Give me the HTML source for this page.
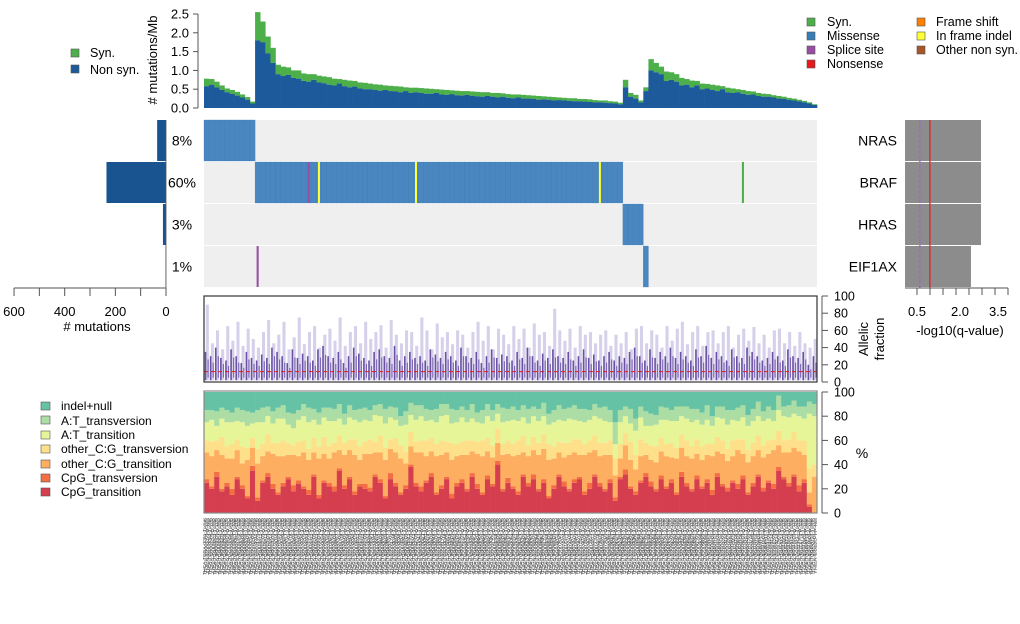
<!DOCTYPE html>
<html><head><meta charset="utf-8"><style>
html,body{margin:0;padding:0;background:#fff;}
svg{display:block;font-family:"Liberation Sans",sans-serif;}
</style></head><body>
<svg id="c" width="1020" height="624" viewBox="0 0 1020 624">
<rect width="1020" height="624" fill="#fff"/>
<g>
<rect x="71" y="49" width="8" height="8" fill="#4daf4a" stroke="#555" stroke-width="0.6"/>
<text x="90" y="57" font-size="12.5">Syn.</text>
<rect x="71" y="65" width="8" height="8" fill="#1c5a9b" stroke="#555" stroke-width="0.6"/>
<text x="90" y="74" font-size="12.5">Non syn.</text>
</g>
<g font-size="12.5">
<rect x="807" y="18" width="8" height="8" fill="#4daf4a" stroke="#555" stroke-width="0.6"/>
<text x="827" y="26">Syn.</text>
<rect x="807" y="32" width="8" height="8" fill="#377eb8" stroke="#555" stroke-width="0.6"/>
<text x="827" y="40">Missense</text>
<rect x="807" y="46" width="8" height="8" fill="#984ea3" stroke="#555" stroke-width="0.6"/>
<text x="827" y="54">Splice site</text>
<rect x="807" y="60" width="8" height="8" fill="#e41a1c" stroke="#555" stroke-width="0.6"/>
<text x="827" y="68">Nonsense</text>
<rect x="917" y="18" width="8" height="8" fill="#ff7f00" stroke="#555" stroke-width="0.6"/>
<text x="936" y="26">Frame shift</text>
<rect x="917" y="32" width="8" height="8" fill="#ffff33" stroke="#555" stroke-width="0.6"/>
<text x="936" y="40">In frame indel</text>
<rect x="917" y="46" width="8" height="8" fill="#a65628" stroke="#555" stroke-width="0.6"/>
<text x="936" y="54">Other non syn.</text>
</g>
<g font-size="12">
<rect x="41" y="402" width="9" height="8" fill="#66c2a5" stroke="#555" stroke-width="0.6"/>
<text x="61" y="410">indel+null</text>
<rect x="41" y="416" width="9" height="8" fill="#abdda4" stroke="#555" stroke-width="0.6"/>
<text x="61" y="425">A:T_transversion</text>
<rect x="41" y="431" width="9" height="8" fill="#e6f598" stroke="#555" stroke-width="0.6"/>
<text x="61" y="439">A:T_transition</text>
<rect x="41" y="445" width="9" height="8" fill="#fee08b" stroke="#555" stroke-width="0.6"/>
<text x="61" y="453">other_C:G_transversion</text>
<rect x="41" y="460" width="9" height="8" fill="#fdae61" stroke="#555" stroke-width="0.6"/>
<text x="61" y="468">other_C:G_transition</text>
<rect x="41" y="474" width="9" height="8" fill="#f46d43" stroke="#555" stroke-width="0.6"/>
<text x="61" y="482">CpG_transversion</text>
<rect x="41" y="488" width="9" height="8" fill="#d53e4f" stroke="#555" stroke-width="0.6"/>
<text x="61" y="496">CpG_transition</text>
</g>
<text transform="translate(157,60) rotate(-90)" text-anchor="middle" font-size="13"># mutations/Mb</text>
<text x="97" y="331" text-anchor="middle" font-size="13"># mutations</text>
<text x="960" y="335" text-anchor="middle" font-size="13">-log10(q-value)</text>
<text transform="translate(868,339) rotate(-90)" text-anchor="middle" font-size="13">Allelic</text>
<text transform="translate(884,339) rotate(-90)" text-anchor="middle" font-size="13">fraction</text>
<text x="862" y="458" text-anchor="middle" font-size="14">%</text>
</svg>
<script>
// ---- data ----
var genes = ["NRAS","BRAF","HRAS","EIF1AX"];
var genePct = ["8%","60%","3%","1%"];
var geneCounts = [35,235,12,2];
var geneQ = [2.73,2.73,2.73,2.38];
var groupSizes = [10,72,4,1,33];
var extraSample = [20,22,41,77,105,10];
var extraGene = [1,1,1,1,1,3];
var extraType = ["splice","inframe","inframe","inframe","syn","splice"];
var nonsyn = [0.58,0.62,0.55,0.48,0.42,0.38,0.33,0.28,0.22,0.12,
1.8,1.75,1.45,1.2,0.9,0.85,0.88,0.8,0.78,0.72,0.7,0.75,0.68,0.66,0.62,0.6,0.65,0.58,0.55,0.57,0.52,0.5,0.5,0.48,0.46,0.48,0.45,0.44,0.42,0.45,0.4,0.42,0.4,0.38,0.38,0.4,0.36,0.35,0.37,0.34,0.33,0.35,0.32,0.31,0.3,0.32,0.3,0.28,0.3,0.27,0.26,0.28,0.25,0.25,0.24,0.22,0.23,0.22,0.2,0.21,0.2,0.19,0.18,0.18,0.17,0.16,0.15,0.15,0.14,0.13,0.12,0.1,
0.55,0.3,0.25,0.15,0.45,
1.0,0.95,0.9,0.72,0.75,0.7,0.6,0.62,0.55,0.6,0.5,0.52,0.48,0.45,0.5,0.42,0.4,0.42,0.38,0.35,0.36,0.32,0.3,0.3,0.28,0.25,0.24,0.22,0.2,0.18,0.15,0.12,0.08];
var syn = [0.2,0.15,0.15,0.12,0.1,0.1,0.1,0.08,0.07,0.05,
0.75,0.55,0.45,0.4,0.25,0.25,0.2,0.2,0.22,0.2,0.2,0.15,0.18,0.18,0.2,0.18,0.12,0.17,0.18,0.15,0.16,0.17,0.15,0.15,0.16,0.12,0.14,0.14,0.15,0.1,0.14,0.12,0.13,0.14,0.13,0.1,0.13,0.13,0.1,0.12,0.12,0.1,0.12,0.12,0.12,0.1,0.1,0.12,0.09,0.1,0.1,0.08,0.1,0.09,0.09,0.1,0.08,0.08,0.09,0.07,0.07,0.07,0.08,0.06,0.07,0.07,0.06,0.05,0.06,0.05,0.05,0.04,
0.2,0.1,0.1,0.05,0.1,
0.3,0.25,0.2,0.25,0.2,0.2,0.2,0.15,0.18,0.12,0.15,0.12,0.14,0.15,0.08,0.12,0.12,0.08,0.1,0.1,0.08,0.08,0.08,0.07,0.06,0.07,0.06,0.05,0.05,0.04,0.04,0.03,0.02];
var afMid = [35,30,40,28,25,38,30,22,35,28,25,32,28,40,35,30,22,38,28,33,30,25,38,42,30,28,35,22,30,40,33,28,25,35,38,30,28,42,25,30,35,28,30,25,38,32,28,35,30,25,40,30,28,35,22,30,38,28,32,30,25,35,28,40,30,25,33,28,38,30,28,35,25,30,38,28,32,25,30,35,25,30,28,35,40,30,25,38,28,35,30,40,28,35,30,25,38,30,42,28,35,30,25,38,30,28,40,35,30,25,28,35,30,25,38,30,28,35,20,30];
var afHigh = [90,45,60,38,65,48,70,42,62,50,40,58,72,45,55,70,38,52,75,44,58,65,40,55,62,48,75,42,58,65,45,70,50,58,66,40,72,55,45,60,58,42,75,60,38,68,52,58,44,60,55,40,58,70,48,65,38,62,55,44,65,50,62,40,68,55,58,42,85,60,48,62,40,65,55,58,45,55,60,42,55,45,58,38,62,65,45,60,55,40,65,48,62,70,44,58,65,42,58,60,45,58,65,40,55,62,48,64,45,55,40,60,62,45,58,42,58,45,40,50];
var afCut = 12;
var ctS = [25,20,30,18,22,15,28,20,12,35,10,25,30,20,15,22,28,18,24,20,15,30,12,25,22,18,35,20,28,15,22,20,18,30,25,12,28,22,15,20,38,22,18,25,30,15,20,28,12,22,25,18,30,20,15,28,22,40,18,25,20,15,30,22,28,18,25,12,20,30,22,18,25,28,15,20,30,22,18,25,10,28,32,20,15,25,30,22,18,28,20,25,15,30,22,18,28,20,25,15,30,22,18,25,20,28,15,22,30,18,25,20,35,28,22,30,18,25,5,0];
var ctV = [3,2,4,2,3,5,2,3,2,4,3,2,3,4,2,3,2,5,3,2,4,2,3,2,3,4,2,3,2,3,2,4,3,2,3,2,5,3,2,3,2,3,4,2,3,2,3,2,4,3,3,2,3,4,2,3,2,3,2,4,2,3,2,3,4,2,3,2,3,2,4,2,3,2,3,5,2,3,2,3,3,2,4,2,3,2,3,4,2,3,2,3,2,4,3,2,3,2,3,4,3,2,3,2,4,3,2,3,2,3,2,4,3,2,3,2,5,3,2,0];
var cgS = [22,25,18,28,20,25,22,18,30,15,28,20,18,25,30,22,18,25,20,28,25,18,30,22,20,28,15,25,22,30,20,25,28,18,22,30,20,25,28,18,15,25,28,20,18,30,25,20,28,22,20,28,18,25,30,20,22,15,28,20,25,30,18,22,20,28,25,30,22,18,20,28,22,18,30,25,20,22,28,20,18,15,20,22,18,20,15,18,22,20,25,18,28,20,22,25,18,22,20,28,18,25,22,20,28,18,25,22,20,25,22,28,18,20,25,22,28,20,10,30];
var cgV = [10,12,8,15,10,12,9,14,10,8,12,10,14,9,11,13,10,8,12,10,9,12,10,14,11,8,12,10,9,13,11,10,12,9,14,10,8,12,11,10,12,9,10,13,11,10,12,9,14,10,11,12,9,10,13,11,10,12,9,11,10,12,14,9,11,10,12,13,10,9,12,10,11,13,9,10,12,11,10,12,14,12,10,15,12,14,10,12,13,11,10,12,9,11,13,10,12,11,9,10,12,11,10,13,9,12,10,11,12,10,11,9,12,10,11,13,9,12,20,10];
var atS = [15,18,12,15,20,18,15,20,18,12,22,18,15,16,20,18,15,14,18,20,22,15,18,16,20,18,14,15,18,16,20,18,15,22,16,20,18,15,16,22,14,18,20,16,15,18,20,22,16,18,20,15,18,16,14,18,20,12,18,16,20,16,15,18,17,18,15,16,20,18,18,20,16,15,18,17,16,20,18,15,12,18,14,15,20,18,14,16,18,15,20,18,22,15,18,20,16,18,20,15,16,18,20,17,15,18,20,18,16,20,18,15,17,20,18,15,20,18,45,40];
var atV = [10,8,12,9,10,8,11,10,12,9,10,12,8,10,9,11,10,12,8,10,12,9,10,8,11,10,12,9,10,8,11,10,9,8,10,12,9,10,8,11,10,12,9,10,8,11,10,9,12,10,9,10,12,8,11,10,9,8,12,10,11,9,10,12,8,10,11,9,10,12,10,9,12,10,11,8,10,9,12,10,18,10,8,12,10,9,12,10,8,11,10,9,12,8,10,11,9,10,12,8,9,10,12,8,11,10,9,10,12,8,10,9,12,8,10,11,8,10,10,10];
var rateTicks = [0,0.5,1.0,1.5,2.0,2.5];
var countTicks = [0,100,200,300,400,500,600];
var countLabels = [0,200,400,600];
var pctTicks = [0,20,40,60,80,100];

var svg = document.getElementById('c');
var NS = 'http://www.w3.org/2000/svg';
function add(tag, attrs, parent){
  var e = document.createElementNS(NS, tag);
  for (var k in attrs) e.setAttribute(k, attrs[k]);
  (parent||svg).appendChild(e);
  return e;
}
var N = nonsyn.length, X0 = 204, X1 = 817, bw = (X1 - X0) / N;
function sx(i){ return X0 + i * bw; }
function rateY(v){ return 108 - v * 37.6; }
function cntX(v){ return 166 - v * 0.2533; }
function qX(v){ return 917 + (v - 0.5) * 28.7; }
function afY(v){ return 382 - v * 0.86; }
function pctY(v){ return 513 - v * 1.21; }
var rowY = [120,162,204,246], rowH = 41;
var mutColors = {missense:'#4a86c0', splice:'#984ea3', inframe:'#ffff33', syn:'#4daf4a', nonsense:'#e41a1c'};

var g = add('g', {});


for (var i = 0; i < N; i++){
  var r = add('rect', {x:sx(i), y:rateY(nonsyn[i]+syn[i]), width:bw+0.3, height:rateY(nonsyn[i])-rateY(nonsyn[i]+syn[i]), fill:'#4daf4a'}, g);
  
  
  var r2 = add('rect', {x:sx(i), y:rateY(nonsyn[i]), width:bw+0.3, height:108-rateY(nonsyn[i]), fill:'#1c5a9b'}, g);
  
  
}
var ax = add('line', {x1:198, y1:rateY(2.5), x2:198, y2:108, stroke:'#555'});


rateTicks.forEach(function(t){
  var l = add('line', {x1:193, x2:198, y1:rateY(t), y2:rateY(t), stroke:'#555'});
  
  
  var tx = add('text', {x:189, y:rateY(t)+4.5, 'text-anchor':'end', 'font-size':13});
  tx.textContent = t.toFixed(1);
  
  
});

var gm = add('g', {});


for (var gi = 0; gi < genes.length; gi++){
  var bg = add('rect', {x:X0, y:rowY[gi], width:X1-X0, height:rowH, fill:'#efefef'}, gm);
  
  
}
var start = 0;
for (var gi = 0; gi < genes.length; gi++){
  for (var s = start; s < start + groupSizes[gi]; s++){
    var c = add('rect', {x:sx(s), y:rowY[gi], width:bw, height:rowH, fill:mutColors.missense, stroke:'#3f79b3', 'stroke-width':0.3}, gm);
    
    
  }
  start += groupSizes[gi];
}
for (var k = 0; k < extraSample.length; k++){
  var c = add('rect', {x:sx(extraSample[k])+bw*0.3, y:rowY[extraGene[k]], width:Math.max(1.5,bw*0.4), height:rowH, fill:mutColors[extraType[k]]}, gm);
  
  
}
for (var gi = 0; gi < genes.length; gi++){
  var cy = rowY[gi] + rowH/2 + 5;
  var pl = add('text', {x:182, y:cy, 'text-anchor':'middle', 'font-size':14});
  pl.textContent = genePct[gi];
  
  
  var gl = add('text', {x:897, y:cy, 'text-anchor':'end', 'font-size':14});
  gl.textContent = genes[gi];
  
  
  var lb = add('rect', {x:cntX(geneCounts[gi]), y:rowY[gi], width:166-cntX(geneCounts[gi]), height:rowH, fill:'#1a5490'});
  
  
  var qb = add('rect', {x:905, y:rowY[gi], width:qX(geneQ[gi])-905, height:rowH, fill:'#8c8c8c'});
  
  
}
var sep = add('line', {x1:166, x2:166, y1:120, y2:288, stroke:'#555', 'stroke-width':0.8});


var cax = add('line', {x1:cntX(600), x2:cntX(0), y1:288, y2:288, stroke:'#555'});


countTicks.forEach(function(t){
  var l = add('line', {x1:cntX(t), x2:cntX(t), y1:288, y2:296, stroke:'#555'});
  
  
});
countLabels.forEach(function(t){
  var tx = add('text', {x:cntX(t), y:316, 'text-anchor':'middle', 'font-size':13});
  tx.textContent = t;
  
  
});
var redl = add('line', {x1:qX(0.95), x2:qX(0.95), y1:120, y2:288, stroke:'#e41a1c', 'stroke-width':1.2});


var purl = add('line', {x1:qX(0.6), x2:qX(0.6), y1:120, y2:288, stroke:'#9a6bc4', 'stroke-width':1.4, 'stroke-dasharray':'3,2'});


var qax = add('line', {x1:905, x2:1008, y1:288, y2:288, stroke:'#555'});


[917,930,943,956,969,982,995,1008].forEach(function(px){
  var l = add('line', {x1:px, x2:px, y1:288, y2:295, stroke:'#555'});
  
  
});
[["0.5",917],["2.0",960],["3.5",998]].forEach(function(p){
  var tx = add('text', {x:p[1], y:316, 'text-anchor':'middle', 'font-size':13});
  tx.textContent = p[0];
  
  
});

var ga = add('g', {});


for (var i = 0; i < N; i++){
  var x = sx(i) + bw/2;
  var l1 = add('line', {x1:x+bw*0.15, x2:x+bw*0.15, y1:afY(2), y2:afY(afHigh[i]), stroke:'#d6d0ea', 'stroke-width':bw*0.6}, ga);
  
  
  var l2 = add('line', {x1:x-bw*0.2, x2:x-bw*0.2, y1:afY(2), y2:afY(afMid[i]), stroke:'#6a51a3', 'stroke-width':1.6}, ga);
  
  
  var l3 = add('line', {x1:x+bw*0.3, x2:x+bw*0.3, y1:afY(5), y2:afY(afMid[i]*0.75), stroke:'#7d68b8', 'stroke-width':1.2}, ga);
  
  
}
var cut = add('line', {x1:X0, x2:X1, y1:afY(afCut), y2:afY(afCut), stroke:'#e41a1c', 'stroke-dasharray':'4,3', 'stroke-width':1}, ga);


var abox = add('rect', {x:X0, y:296, width:X1-X0, height:86, fill:'none', stroke:'#333', 'stroke-width':1.2});



var specArr = [ctS, ctV, cgS, cgV, atS, atV];
var specCol = ['#d53e4f','#f46d43','#fdae61','#fee08b','#e6f598','#abdda4','#66c2a5'];
var specNames = ['cpg-ts','cpg-tv','cg-ts','cg-tv','at-ts','at-tv','indel'];
var gs = add('g', {});


for (var i = 0; i < N; i++){
  var acc = 0;
  var vals = specArr.map(function(a){ return a[i]; });
  var rest = 100 - vals.reduce(function(p,q){return p+q;},0);
  vals.push(Math.max(0, rest));
  for (var k = 0; k < vals.length; k++){
    var rr = add('rect', {x:sx(i), y:pctY(acc+vals[k]), width:bw+0.3, height:pctY(acc)-pctY(acc+vals[k]), fill:specCol[k]}, gs);
    
    
    acc += vals[k];
  }
}
var sbox = add('rect', {x:X0, y:391, width:X1-X0, height:122, fill:'none', stroke:'#888', 'stroke-width':1.2});



[[afY, 'af'], [pctY, 'pct']].forEach(function(p){
  var f = p[0];
  var l = add('line', {x1:822, x2:822, y1:f(100), y2:f(0), stroke:'#555'});
  
  
  pctTicks.forEach(function(t){
    var tl = add('line', {x1:822, x2:828, y1:f(t), y2:f(t), stroke:'#555'});
    
    
    var tx = add('text', {x:834, y:f(t)+4.5, 'font-size':12.5});
    tx.textContent = t;
    
    
  });
});

var gn = add('g', {});


for (var i = 0; i < N; i++){
  var id = ('000' + (i + 1)).slice(-4);
  var t1 = add('text', {transform:'translate(' + (sx(i)+bw*0.35) + ',575) rotate(-90)', 'font-size':4.5, fill:'#333', 'textLength':57, 'lengthAdjust':'spacingAndGlyphs'}, gn);
  t1.textContent = 'THCA-TCGA-' + id + '-Tumor';
  
  
  var t2 = add('text', {transform:'translate(' + (sx(i)+bw*0.7) + ',573) rotate(-90)', 'font-size':4.5, fill:'#444', 'textLength':55, 'lengthAdjust':'spacingAndGlyphs'}, gn);
  t2.textContent = 'TCGA-E' + id + '-01A-11D';
  
  
  var t3 = add('text', {transform:'translate(' + (sx(i)+bw*1.02) + ',574) rotate(-90)', 'font-size':4.5, fill:'#555', 'textLength':56, 'lengthAdjust':'spacingAndGlyphs'}, gn);
  t3.textContent = 'THCA-E' + id + '-TP-NB';
  
  
}
</script>
</body></html>
